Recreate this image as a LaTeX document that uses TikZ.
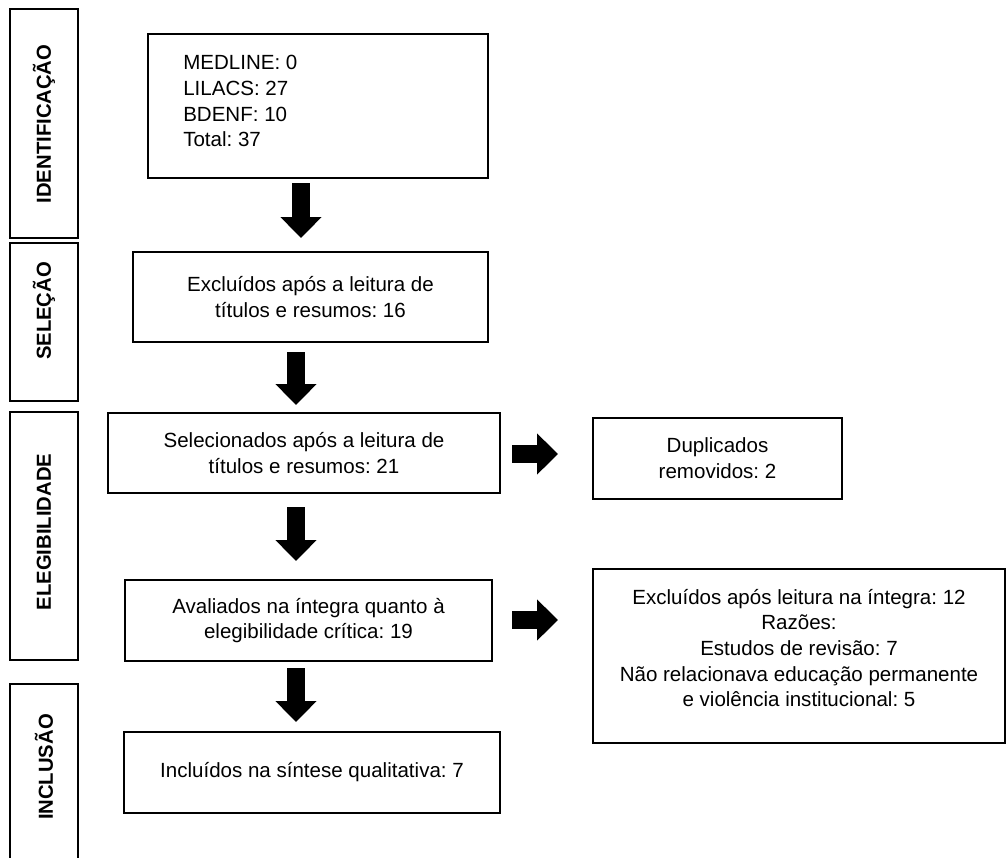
\documentclass[tikz,border=0pt]{standalone}
\usepackage{fontspec}
\setmainfont{Liberation Sans}
\usetikzlibrary{arrows.meta}
\frenchspacing
\begin{document}
\begin{tikzpicture}[x=0.75pt,y=-0.75pt,
  every node/.style={font=\fontsize{15.4pt}{19.3pt}\selectfont},
  box/.style={draw,line width=0.8pt,inner sep=0pt,align=center},
  phase/.style={draw,line width=0.8pt,minimum width=51pt},
  phasetext/.style={rotate=90,inner sep=0pt,font=\fontsize{15.2pt}{18pt}\selectfont\bfseries},
  bigarrow/.style={line width=13.5pt,-{Triangle[length=15.75pt,width=30pt]}}]
\useasboundingbox (0,0) rectangle (1006,857);
% fases
\node[phase,minimum height=171.75pt] (identbox) at (44,123.5) {};
\node[phase,minimum height=118.5pt] (selbox) at (44,322) {};
\node[phase,minimum height=186pt] (elegbox) at (44,536) {};
\node[phase,minimum height=150pt] (inclbox) at (44,784) {};
\node[phasetext] (identlbl) at (44,124) {IDENTIFICAÇÃO};
\node[phasetext] (sellbl) at (44,311) {SELEÇÃO};
\node[phasetext] (eleglbl) at (44,532) {ELEGIBILIDADE};
\node[phasetext] (incllbl) at (44,767) {INCLUSÃO};
% caixas
\node[box,minimum width=255pt,minimum height=108pt] (busca) at (318,106) {};
\node[anchor=north west,inner sep=0pt,align=left] (buscatxt) at (183,55) {MEDLINE: 0\\LILACS: 27\\BDENF: 10\\Total: 37};
\node[box,minimum width=266.25pt,minimum height=67.5pt] (excl) at (310.5,297) {Excluídos após a leitura de\\títulos e resumos: 16};
\node[box,minimum width=294pt,minimum height=60pt] (selec) at (304,453) {Selecionados após a leitura de\\títulos e resumos: 21};
\node[box,minimum width=186.75pt,minimum height=60.75pt] (dupl) at (717.5,458.5) {Duplicados\\removidos: 2};
\node[box,minimum width=275.25pt,minimum height=60.75pt] (aval) at (308.5,620.5) {Avaliados na íntegra quanto à\\elegibilidade crítica: 19};
\node[box,minimum width=309pt,minimum height=130.5pt] (exclint) at (799,656) {};
\node[inner sep=0pt,align=center] (exclinttxt) at (799,648) {Excluídos após leitura na íntegra: 12\\Razões:\\Estudos de revisão: 7\\Não relacionava educação permanente\\e violência institucional: 5};
\node[box,minimum width=282pt,minimum height=60.75pt] (inclu) at (312,772.5) {Incluídos na síntese qualitativa: 7};
% setas
\coordinate (d1a) at (301,183); \coordinate (d1b) at (301,238);
\coordinate (d2a) at (296,352); \coordinate (d2b) at (296,405);
\coordinate (d3a) at (296,507); \coordinate (d3b) at (296,561);
\coordinate (d4a) at (296,668); \coordinate (d4b) at (296,722);
\coordinate (r1a) at (512,454); \coordinate (r1b) at (558,454);
\coordinate (r2a) at (512,620); \coordinate (r2b) at (558,620);
\draw[bigarrow] (d1a) -- (d1b);
\draw[bigarrow] (d2a) -- (d2b);
\draw[bigarrow] (d3a) -- (d3b);
\draw[bigarrow] (d4a) -- (d4b);
\draw[bigarrow] (r1a) -- (r1b);
\draw[bigarrow] (r2a) -- (r2b);
\end{tikzpicture}
\end{document}
